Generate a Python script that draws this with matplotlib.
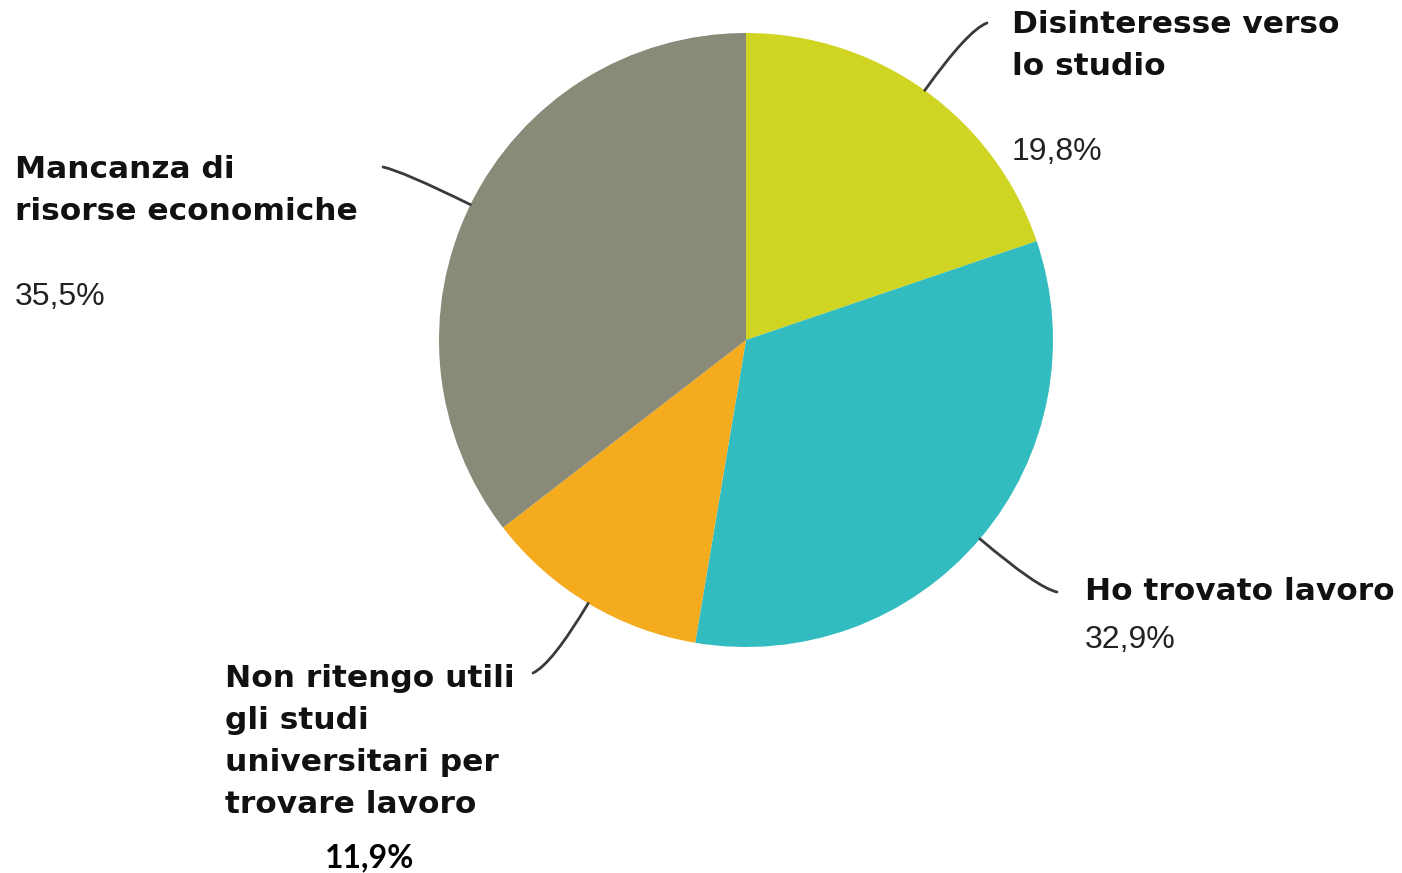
import matplotlib
matplotlib.use("Agg")
import matplotlib.pyplot as plt
import numpy as np

W, H = 1402, 873

# data (clockwise from 12 o'clock)
labels = [
    "Disinteresse verso\nlo studio",
    "Ho trovato lavoro",
    "Non ritengo utili\ngli studi\nuniversitari per\ntrovare lavoro",
    "Mancanza di\nrisorse economiche",
]
values = [19.8, 32.9, 11.9, 35.5]
pct_labels = ["19,8%", "32,9%", "11,9%", "35,5%"]
colors = ["#D0D423", "#33BCBF", "#F5AB1E", "#8A8A78"]

# layout, in image pixels (y measured from the top)
CENTER = (746, 340)
RADIUS = 307
LINE_STEP = 42
label_pos = [(1012, 33), (1085, 600), (225, 687), (15, 178)]
pct_pos = [(1012, 160, "left"), (1085, 648, "left"), (370, 867, "center"), (15, 305, "left")]
# free end of each leader line and its direction there (degrees)
leader_end = [(987, 23, 20), (1057, 592, -12), (533, 673, 25), (383, 167, -12)]

fig = plt.figure(figsize=(W / 100, H / 100), dpi=100)
ax = fig.add_axes([0, 0, 1, 1])

ax.pie(values, colors=colors, startangle=90, counterclock=False,
       center=(CENTER[0], H - CENTER[1]), radius=RADIUS,
       wedgeprops={"linewidth": 0})

ax.set_xlim(0, W)
ax.set_ylim(0, H)
ax.set_aspect("equal")
ax.axis("off")

# leader lines from the middle of each wedge's rim
total = sum(values)
cum = 0.0
for i, v in enumerate(values):
    mid = np.deg2rad(90 - (cum + v / 2) / total * 360)
    cum += v
    px = CENTER[0] + RADIUS * np.cos(mid)
    py = (H - CENTER[1]) + RADIUS * np.sin(mid)
    ex, ey, ang = leader_end[i]
    ax.annotate("", xy=(px, py), xytext=(ex, H - ey),
                arrowprops=dict(arrowstyle="-", color="#3a3a3a", lw=2,
                                shrinkA=0, shrinkB=0,
                                connectionstyle=f"angle3,angleA={ang},angleB={np.rad2deg(mid):.1f}"))

# category labels, one line at a time
for (x, y), lab in zip(label_pos, labels):
    for k, line in enumerate(lab.split("\n")):
        ax.text(x, H - (y + k * LINE_STEP), line, fontsize=22.5, fontweight="bold",
                family="DejaVu Sans", color="#111111", ha="left", va="baseline")

for i, ((x, y, ha), txt) in enumerate(zip(pct_pos, pct_labels)):
    if i == 2:
        ax.text(x, H - y, txt, fontsize=23, fontweight="bold", family="Lato",
                color="black", ha=ha, va="baseline")
    else:
        ax.text(x, H - y, txt, fontsize=23, family="Liberation Sans",
                color="#222222", ha=ha, va="baseline")

fig.savefig("out.png", dpi=100, facecolor="white")
